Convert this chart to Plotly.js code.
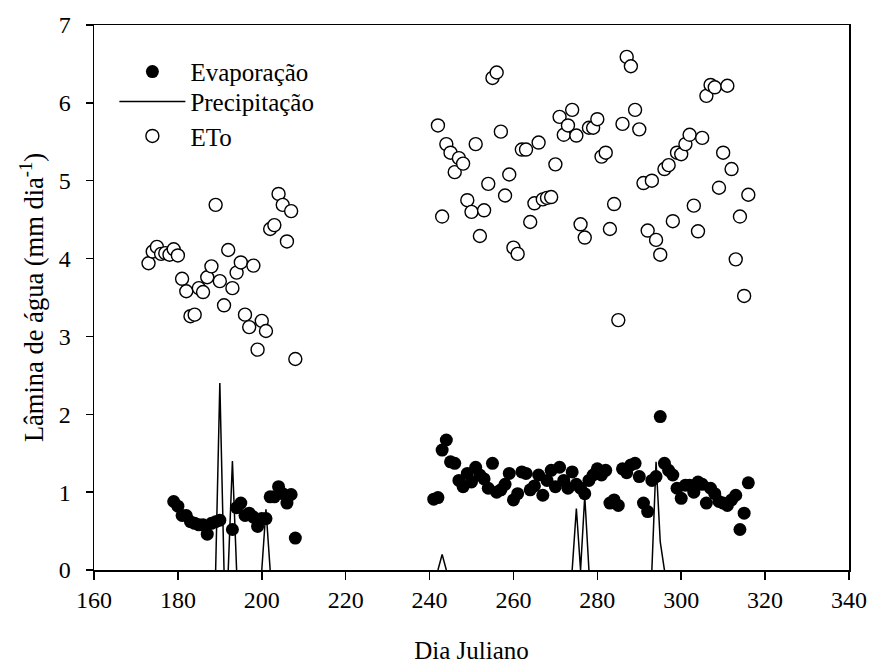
<!DOCTYPE html>
<html>
<head>
<meta charset="utf-8">
<script src="https://cdn.plot.ly/plotly-3.0.1.min.js"></script>
<style>
  html, body { margin: 0; padding: 0; background: #ffffff; }
  #chart { width: 870px; height: 664px; }
</style>
</head>
<body>
<div id="chart"></div>
<script>
// Evaporação do tanque (mm/dia) por dia juliano
const evapDays = [
  179, 180, 181, 182, 183, 184, 185, 186, 187, 188, 189, 190,
  193, 194, 195, 196, 197, 198, 199, 200, 201, 202, 203, 204, 205, 206, 207, 208,
  241, 242, 243, 244, 245, 246, 247, 248, 249, 250, 251, 252, 253, 254, 255, 256,
  257, 258, 259, 260, 261, 262, 263, 264, 265, 266, 267, 268, 269, 270, 271, 272,
  273, 274, 275, 276, 277, 278, 279, 280, 281, 282, 283, 284, 285, 286, 287, 288,
  289, 290, 291, 292, 293, 294, 295, 296, 297, 298, 299, 300, 301, 302, 303, 304,
  305, 306, 307, 308, 309, 310, 311, 312, 313, 314, 315, 316
];
const evapValues = [
  0.88, 0.82, 0.70, 0.70, 0.62, 0.60, 0.58, 0.58, 0.46, 0.60, 0.62, 0.64,
  0.52, 0.80, 0.86, 0.70, 0.73, 0.68, 0.56, 0.66, 0.66, 0.94, 0.94, 1.07, 0.98, 0.86, 0.97, 0.41,
  0.91, 0.93, 1.54, 1.67, 1.39, 1.37, 1.15, 1.07, 1.24, 1.13, 1.32, 1.22, 1.17, 1.05, 1.37, 1.00,
  1.03, 1.10, 1.24, 0.90, 0.98, 1.26, 1.24, 1.03, 1.08, 1.22, 0.96, 1.15, 1.28, 1.07, 1.32, 1.15,
  1.05, 1.26, 1.10, 1.05, 0.98, 1.15, 1.22, 1.30, 1.22, 1.28, 0.86, 0.90, 0.83, 1.30, 1.25, 1.35,
  1.37, 1.20, 0.86, 0.75, 1.15, 1.20, 1.97, 1.37, 1.28, 1.22, 1.05, 0.92, 1.09, 1.09, 1.00, 1.13,
  1.10, 0.86, 1.05, 0.98, 0.88, 0.86, 0.83, 0.90, 0.96, 0.52, 0.73, 1.12
];

// Precipitação (mm): cada evento de chuva com os dias secos vizinhos;
// null separa os eventos
const precipDays = [189, 190, 191, null, 192, 193, 194, null, 200, 201, 202, null,
                    242, 243, 244, null, 274, 275, 276, 277, 278, null, 293, 294, 295, 296];
const precipValues = [0, 2.40, 0, null, 0, 1.40, 0, null, 0, 0.78, 0, null,
                      0, 0.20, 0, null, 0, 0.79, 0, 0.95, 0, null, 0, 1.39, 0.36, 0];

// Evapotranspiração de referência (mm/dia)
const etoDays = [
  173, 174, 175, 176, 177, 178, 179, 180, 181, 182, 183, 184, 185, 186, 187, 188,
  189, 190, 191, 192, 193, 194, 195, 196, 197, 198, 199, 200, 201, 202, 203, 204,
  205, 206, 207, 208,
  242, 243, 244, 245, 246, 247, 248, 249, 250, 251, 252, 253, 254, 255, 256, 257,
  258, 259, 260, 261, 262, 263, 264, 265, 266, 267, 268, 269, 270, 271, 272, 273,
  274, 275, 276, 277, 278, 279, 280, 281, 282, 283, 284, 285, 286, 287, 288, 289,
  290, 291, 292, 293, 294, 295, 296, 297, 298, 299, 300, 301, 302, 303, 304, 305,
  306, 307, 308, 309, 310, 311, 312, 313, 314, 315, 316
];
const etoValues = [
  3.94, 4.09, 4.15, 4.06, 4.07, 4.05, 4.12, 4.04, 3.74, 3.58, 3.26, 3.28, 3.62, 3.57, 3.76, 3.90,
  4.69, 3.71, 3.40, 4.11, 3.62, 3.82, 3.95, 3.28, 3.12, 3.91, 2.83, 3.20, 3.07, 4.38, 4.43, 4.83,
  4.69, 4.22, 4.61, 2.71,
  5.71, 4.54, 5.47, 5.36, 5.11, 5.29, 5.22, 4.75, 4.60, 5.47, 4.29, 4.62, 4.96, 6.32, 6.39, 5.63,
  4.81, 5.08, 4.14, 4.06, 5.40, 5.40, 4.47, 4.71, 5.49, 4.76, 4.78, 4.79, 5.21, 5.82, 5.59, 5.71,
  5.91, 5.58, 4.44, 4.27, 5.68, 5.68, 5.79, 5.31, 5.36, 4.38, 4.70, 3.21, 5.73, 6.59, 6.47, 5.91,
  5.66, 4.97, 4.36, 5.00, 4.24, 4.05, 5.15, 5.20, 4.48, 5.36, 5.34, 5.47, 5.59, 4.68, 4.35, 5.55,
  6.09, 6.23, 6.20, 4.91, 5.36, 6.22, 5.15, 3.99, 4.54, 3.52, 4.82
];

const xTicks = [160, 180, 200, 220, 240, 260, 280, 300, 320, 340];
const yTicks = [0, 1, 2, 3, 4, 5, 6, 7];

const serif = '"Times New Roman", "Liberation Serif", serif';

const traces = [
  {
    x: evapDays, y: evapValues, name: 'Evaporação', type: 'scatter', mode: 'markers',
    legend: 'legend',
    marker: { symbol: 'circle', size: 13, color: '#000000', line: { width: 0 } }
  },
  {
    x: precipDays, y: precipValues, name: 'Precipitação', type: 'scatter', mode: 'lines',
    legend: 'legend2', connectgaps: false,
    line: { color: '#000000', width: 1.5 }
  },
  {
    x: etoDays, y: etoValues, name: 'ETo', type: 'scatter', mode: 'markers',
    legend: 'legend3',
    marker: { symbol: 'circle', size: 13, color: '#ffffff', line: { color: '#000000', width: 1.4 } }
  }
];

const axisCommon = {
  showgrid: false, zeroline: false, showline: true, mirror: true,
  linecolor: '#000000', linewidth: 1.5,
  ticks: 'outside', tickcolor: '#000000', tickwidth: 1.5,
  tickfont: { family: serif, size: 24, color: '#000000' }
};

// one legend box per entry so the rows sit where they should
function legendBox(yPos) {
  return {
    x: 0.027, y: yPos, xanchor: 'left', yanchor: 'middle',
    bgcolor: 'rgba(0,0,0,0)', borderwidth: 0,
    font: { family: serif, size: 25, color: '#000000' },
    itemwidth: 66
  };
}

const layout = {
  width: 870, height: 664,
  paper_bgcolor: '#ffffff', plot_bgcolor: '#ffffff',
  margin: { l: 94, r: 21, t: 25, b: 94 },
  font: { family: serif, color: '#000000' },
  showlegend: true,
  legend: legendBox(0.914),
  legend2: legendBox(0.859),
  legend3: legendBox(0.796),
  xaxis: Object.assign({}, axisCommon, {
    range: [160, 340], tickvals: xTicks, ticklen: 8, ticklabelstandoff: 0,
    title: { text: 'Dia Juliano', font: { family: serif, size: 25, color: '#000000' }, standoff: 36 }
  }),
  yaxis: Object.assign({}, axisCommon, {
    range: [0, 7], tickvals: yTicks, ticklen: 7, ticklabelstandoff: 10,
    title: { text: 'Lâmina de água (mm dia<sup>-1</sup>)', font: { family: serif, size: 26.5, color: '#000000' }, standoff: 7 }
  })
};

Plotly.newPlot('chart', traces, layout, { displayModeBar: false, staticPlot: true });
</script>
</body>
</html>
